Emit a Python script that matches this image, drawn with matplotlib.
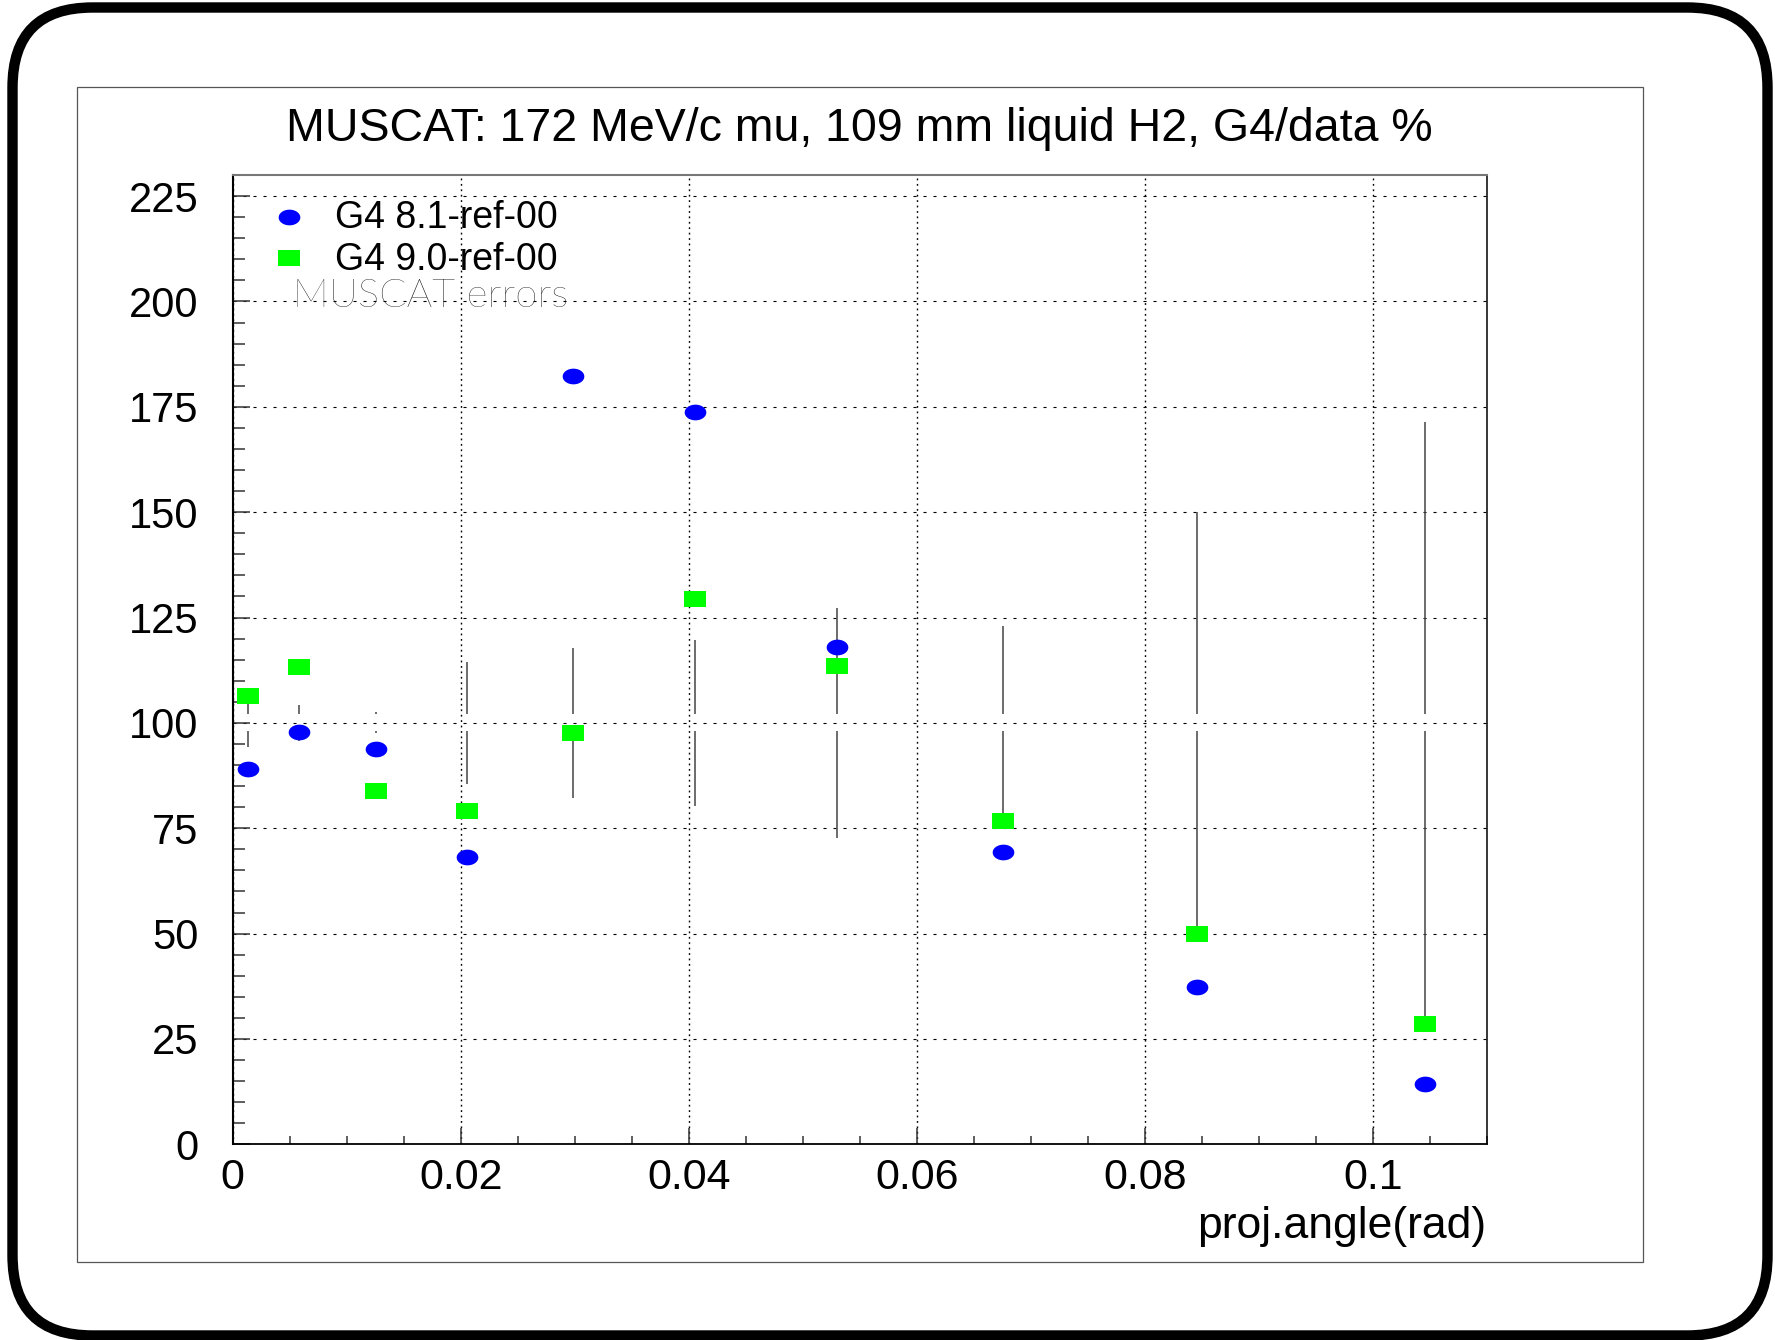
import numpy as np
import matplotlib
matplotlib.use("Agg")
import matplotlib.pyplot as plt
from matplotlib.path import Path
from matplotlib.patches import FancyBboxPatch, Rectangle
from matplotlib.ticker import MultipleLocator, FuncFormatter

plt.rcParams['font.family'] = ['Liberation Sans', 'DejaVu Sans']
plt.rcParams['lines.scale_dashes'] = False

# ---- data ----
angle = [0.00136, 0.00585, 0.01255, 0.02052, 0.02985, 0.04058, 0.0530, 0.0676, 0.0846, 0.1046]
g4_81 = [89.0, 97.8, 93.8, 68.2, 182.3, 173.7, 118.1, 69.3, 37.3, 14.2]
g4_90 = [106.4, 113.2, 83.8, 79.2, 97.5, 129.4, 113.5, 76.7, 49.9, 28.5]
muscat_err = [5.7, 4.3, 2.5, 14.5, 17.8, 19.7, 27.3, 23.0, 50.1, 71.3]
reference_level = 100.0

title = "MUSCAT: 172 MeV/c mu, 109 mm liquid H2, G4/data %"
xlabel = "proj.angle(rad)"
legend_labels = ["G4 8.1-ref-00", "G4 9.0-ref-00", "MUSCAT errors"]

W, H = 1775, 1340
fig = plt.figure(figsize=(W / 100, H / 100), dpi=100)
ax = fig.add_axes([232.7 / W, 1 - 1144.3 / H, (1486.7 - 232.7) / W, (1144.3 - 175.0) / H])

def ay(ypix):
    """figure-pixel row (from top) -> axes fraction"""
    return (1144.3 - ypix) / 969.3

# outer rounded frame and inner canvas frame (pixel coords)
fig.patches.append(FancyBboxPatch((12.5, 4.5), 1767.5 - 12.5, 1332.5 - 4.5,
                                  boxstyle="round,pad=0,rounding_size=80",
                                  transform=None, fill=False, lw=7.5, ec='black'))
fig.patches.append(Rectangle((76.7, H - 1262.3), 1643.3 - 76.7, 1262.3 - 87.3,
                             transform=None, fill=False, lw=0.9, ec='#555555'))

# custom markers (wider than tall)
t = np.linspace(0, 2 * np.pi, 60)
ellipse = Path(np.column_stack([1.38 * np.cos(t), np.sin(t)]), closed=True)
rect = Path([(-1.38, -1), (1.38, -1), (1.38, 1), (-1.38, 1), (-1.38, -1)], closed=True)

ax.set_xlim(0, 0.11)
ax.set_ylim(0, 230)

# error bars around 100 with a small gap at the centre
x = np.array(angle)
e = np.array(muscat_err)
gap = 2.0
ax.vlines(x, reference_level + gap, reference_level + np.maximum(e, gap), color='#444444', lw=1.1, zorder=2)
ax.vlines(x, reference_level - np.maximum(e, gap), reference_level - gap, color='#444444', lw=1.1, zorder=2)

ax.plot(angle, g4_81, ls='none', marker=ellipse, ms=15.6, mfc='#0000ff', mec='#0000ff', mew=0, zorder=3)
ax.plot(angle, g4_90, ls='none', marker=rect, ms=15.6, mfc='#00ff00', mec='#00ff00', mew=0, zorder=3)

# grid
ax.yaxis.set_major_locator(MultipleLocator(25))
ax.yaxis.set_minor_locator(MultipleLocator(5))
ax.xaxis.set_major_locator(MultipleLocator(0.02))
ax.xaxis.set_minor_locator(MultipleLocator(0.005))
ax.grid(True, axis='y', which='major', color='black', lw=0.8, ls=(0, (2.2, 5.0)), zorder=1)
ax.grid(True, axis='x', which='major', color='black', lw=1.0, ls=(0, (1.3, 2.6)), zorder=1)

ax.xaxis.set_major_formatter(FuncFormatter(lambda v, p: "0" if abs(v) < 1e-12 else "%g" % v))
ax.tick_params(axis='both', which='both', direction='in', top=False, right=False, colors='#333333',
               labelcolor='black', width=1.1)
ax.tick_params(axis='x', which='major', length=11.5, labelsize=31, pad=10)
ax.tick_params(axis='x', which='minor', length=6)
ax.tick_params(axis='y', which='major', length=12, labelsize=30, pad=24.8)
ax.tick_params(axis='y', which='minor', length=8.4)

for s in ['left', 'bottom', 'right']:
    ax.spines[s].set_color('black')
ax.spines['left'].set_linewidth(1.5)
ax.spines['bottom'].set_linewidth(1.3)
ax.spines['right'].set_linewidth(1.1)
ax.spines['top'].set_color('#777777')
ax.spines['top'].set_linewidth(1.5)

ax.set_title(title, fontsize=33.5, y=ay(149.0), va='baseline')
ax.set_xlabel(xlabel, fontsize=32, ha='right', va='baseline')
ax.xaxis.set_label_coords(1.0, ay(1238.0))

# legend (drawn in axes coordinates)
ax.plot([0.0449], [ay(216.7)], transform=ax.transAxes, ls='none', marker=ellipse, ms=15.6,
        mfc='#0000ff', mew=0, clip_on=False)
ax.plot([0.0449], [ay(258.3)], transform=ax.transAxes, ls='none', marker=rect, ms=15.6,
        mfc='#00ff00', mew=0, clip_on=False)
ax.text(0.0816, ay(228.3), legend_labels[0], transform=ax.transAxes, fontsize=27, va='baseline')
ax.text(0.0816, ay(269.5), legend_labels[1], transform=ax.transAxes, fontsize=27, va='baseline')
ax.text(0.0481, ay(307.0), legend_labels[2], transform=ax.transAxes, fontsize=29, va='baseline',
        family=['Lato', 'DejaVu Sans'], fontweight='light', color='black')

fig.savefig("out.png", dpi=100)
